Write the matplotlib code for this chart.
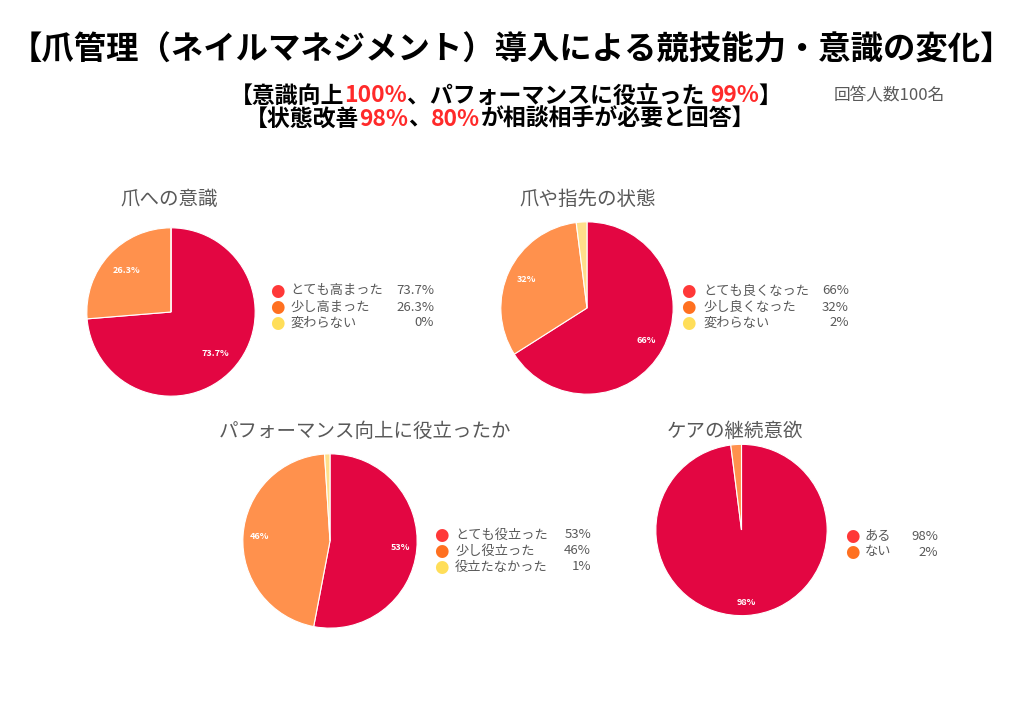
import matplotlib
matplotlib.use('Agg')
import matplotlib.pyplot as plt

plt.rcParams['font.family'] = ['Noto Sans CJK JP', 'DejaVu Sans']

W, H = 1024, 725

# data
titles = ['爪への意識', '爪や指先の状態', 'パフォーマンス向上に役立ったか', 'ケアの継続意欲']
labels = [
    ['とても高まった', '少し高まった', '変わらない'],
    ['とても良くなった', '少し良くなった', '変わらない'],
    ['とても役立った', '少し役立った', '役立たなかった'],
    ['ある', 'ない'],
]
values = [
    [73.7, 26.3, 0],
    [66, 32, 2],
    [53, 46, 1],
    [98, 2],
]

slice_colors = ['#E30642', '#FF914D', '#FFDE8A']
legend_colors = ['#FF3838', '#FF7020', '#FFDE59']
red = '#FF2A2A'
gray = '#595959'

fig = plt.figure(figsize=(W / 100, H / 100), dpi=100)

# pie layout in pixels: center x, center y, radius, pct distance
pies = [(171, 312, 85, 0.72), (587, 308, 87, 0.78), (330, 541, 88, 0.81), (741.5, 530, 86.5, 0.85)]
title_pos = [(120, 199), (519, 199), (219, 431), (667, 431)]
# legend: marker x, label x, value right x, first row y, row step
legend_pos = [(277, 290, 434, 291, 16), (688, 703, 849, 291, 16),
              (441, 455, 591, 535, 16), (852, 865, 938, 536, 16)]

for i in range(4):
    cx, cy, r, pd = pies[i]
    ax = fig.add_axes([(cx - r) / W, (H - cy - r) / H, 2 * r / W, 2 * r / H])
    vals = values[i]
    txt = [f'{v:g}%' if v >= 5 else '' for v in vals]
    wedges, _, autotexts = ax.pie(vals, colors=slice_colors[:len(vals)], startangle=90,
                                  counterclock=False, radius=1, autopct='%1.0f',
                                  pctdistance=pd,
                                  wedgeprops=dict(edgecolor='white', linewidth=0.8))
    for t, s in zip(autotexts, txt):
        t.set_text(s)
        t.set_color('white')
        t.set_fontsize(6.5)
        t.set_fontweight('bold')
    ax.set_xlim(-1.01, 1.01)
    ax.set_ylim(-1.01, 1.01)
    ax.axis('off')

    tx, ty = title_pos[i]
    fig.text(tx / W, 1 - ty / H, titles[i], fontsize=14, color=gray, va='center', ha='left')

    mx, lx, vx, ly, step = legend_pos[i]
    for j, (lab, v) in enumerate(zip(labels[i], vals)):
        y = 1 - (ly + j * step) / H
        fig.text(mx / W, y, '●', fontsize=12, color=legend_colors[j], ha='center', va='center',
                 family=['DejaVu Sans'])
        fig.text(lx / W, y, lab, fontsize=9.5, color=gray, ha='left', va='center')
        fig.text(vx / W, y, f'{v:g}%', fontsize=9.5, color=gray, ha='right', va='center')

# headline
fig.text(511 / W, 1 - 50 / H, '【爪管理（ネイルマネジメント）導入による競技能力・意識の変化】',
         fontsize=23.3, fontweight='bold', color='black', ha='center', va='center')


def colored_line(parts, xc, yc, size):
    renderer = fig.canvas.get_renderer()
    objs = []
    for s, c in parts:
        t = fig.text(0, 1 - yc / H, s, fontsize=size, fontweight='bold', color=c, va='center')
        objs.append(t)
    widths = [t.get_window_extent(renderer).width for t in objs]
    x = xc - sum(widths) / 2
    for t, w in zip(objs, widths):
        t.set_x(x / W)
        x += w


colored_line([('【意識向上', 'black'), ('100%', red), ('、パフォーマンスに役立った ', 'black'),
              ('99%', red), ('】', 'black')], 506, 96, 16.5)
colored_line([('【状態改善', 'black'), ('98%', red), ('、', 'black'), ('80%', red),
              ('が相談相手が必要と回答】', 'black')], 500, 119, 16.5)

fig.text(889 / W, 1 - 96 / H, '回答人数100名', fontsize=12, color=gray, ha='center', va='center')

fig.savefig('out.png', dpi=100, facecolor='white')
